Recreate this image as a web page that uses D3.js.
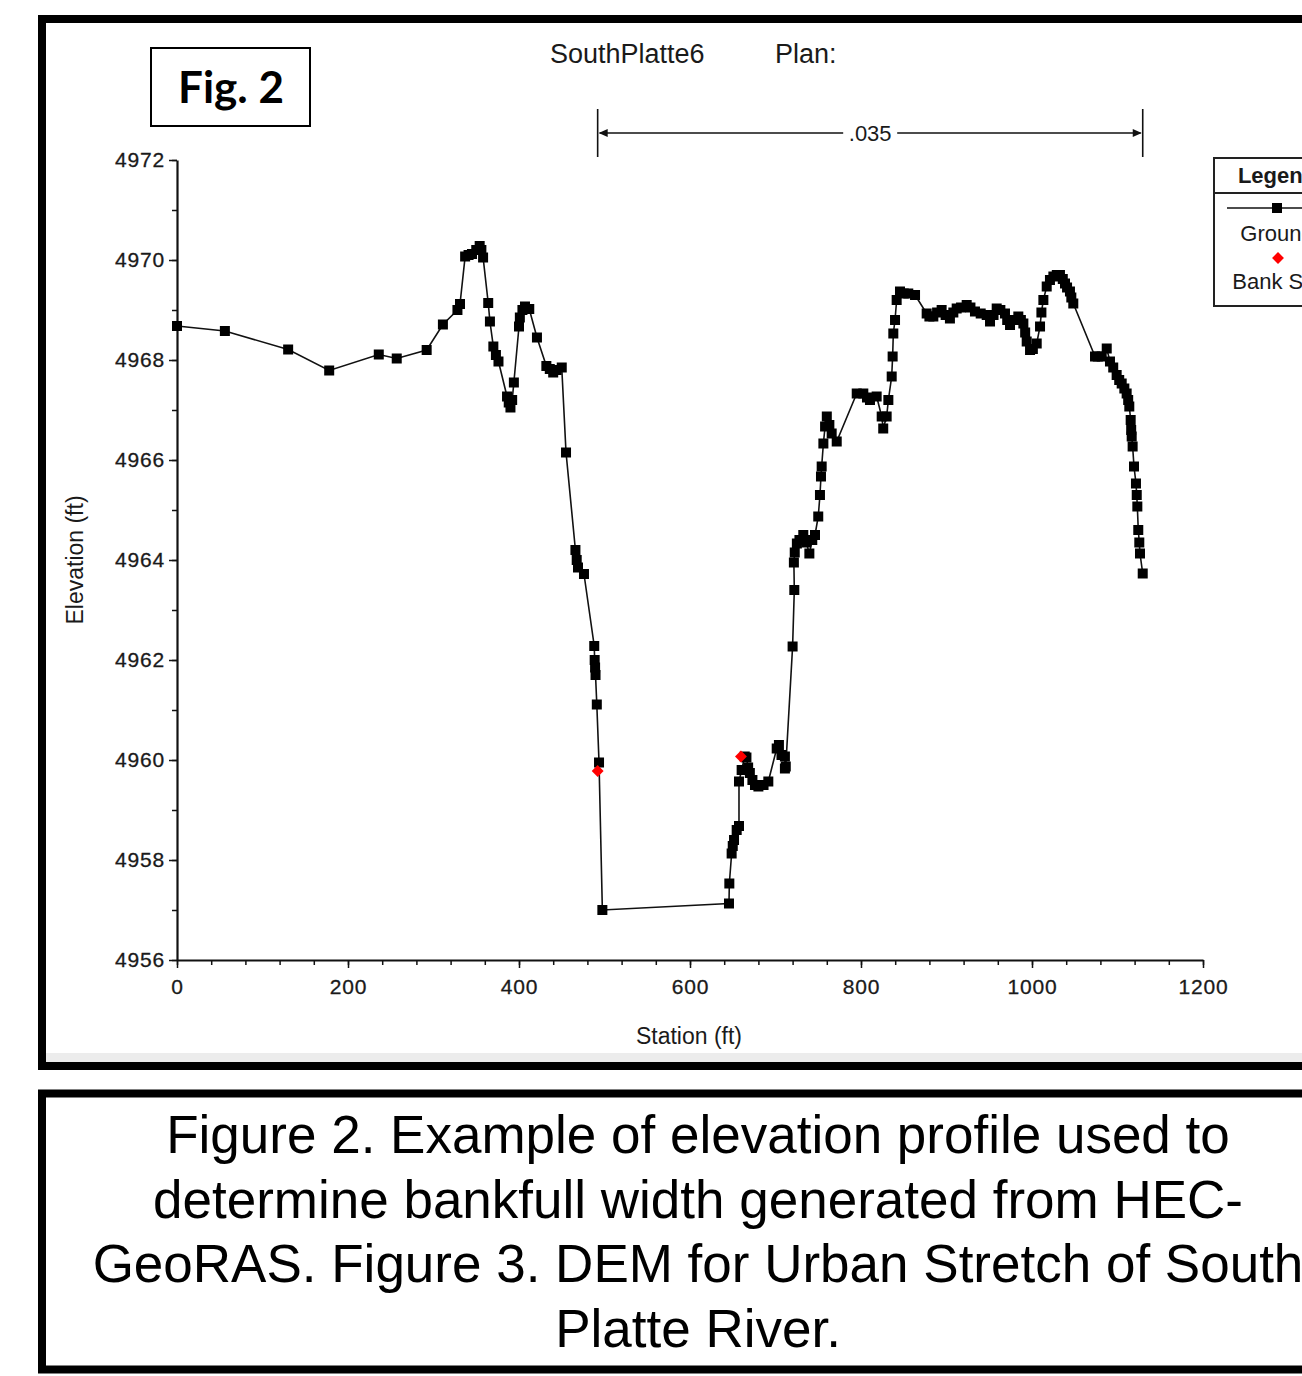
<!DOCTYPE html>
<html>
<head>
<meta charset="utf-8">
<script src="https://cdn.jsdelivr.net/npm/d3@7"></script>
<style>
  html, body { margin: 0; padding: 0; background: #fff; }
  svg { display: block; }
</style>
</head>
<body>
<svg id="chart" width="1302" height="1376"></svg>
<script>
// ---------------- DATA ----------------
const groundStation = [
  0, 56, 130, 178, 236, 257, 292, 311, 328, 331,
  337, 341, 345, 350, 354, 356, 358, 364, 366, 370,
  373, 376, 386, 388, 390, 392, 394, 400, 401, 404,
  407, 412, 421, 432, 436, 440, 444, 450, 455, 466,
  467.5, 469, 476, 488, 488.5, 489, 489.5, 491, 493.6, 497.5,
  645.6, 646, 648.7, 650, 651.5, 654.6, 657.3, 657.3, 660.4, 664,
  666, 668, 670, 673, 676, 680, 686, 691.6, 701.4, 704,
  707, 711, 711, 712, 720, 722, 721.5, 722.5, 725, 728,
  732.5, 736, 739.6, 743, 746.2, 750, 752, 753.2, 754, 756,
  758, 760, 763, 765.7, 771.6, 795, 802.7, 807, 810.5, 818.3,
  824.2, 826, 830, 832, 835.9, 837, 837.8, 839.8, 841.7, 845.6,
  850, 855.3, 863.2, 876.8, 880, 884.6, 889, 894.3, 899, 904,
  908, 911.9, 917, 923.6, 928, 933.3, 940, 947, 950.9, 955,
  958.7, 963, 968.4, 971, 974.3, 979, 984, 987, 989.9, 992,
  993.8, 997.7, 1001, 1005.5, 1009.4, 1011, 1013.3, 1017.2, 1021, 1025,
  1029, 1032.7, 1036, 1038.6, 1041, 1044.4, 1046, 1048.3, 1073.7, 1077,
  1081.5, 1087.4, 1091.2, 1095, 1099, 1102, 1104.9, 1108, 1110.7, 1112.5,
  1113.8, 1115.4, 1116, 1116.6, 1117.7, 1119.3, 1121.6, 1122.5, 1123.2, 1124.3,
  1125.5, 1126.3, 1129.5
];
const groundElevation = [
  4968.68, 4968.58, 4968.21, 4967.79, 4968.11, 4968.03, 4968.20, 4968.71, 4969.00, 4969.12,
  4970.07, 4970.10, 4970.12, 4970.20, 4970.28, 4970.20, 4970.05, 4969.14, 4968.77, 4968.27,
  4968.10, 4967.97, 4967.27, 4967.15, 4967.05, 4967.20, 4967.55, 4968.67, 4968.85, 4969.00,
  4969.07, 4969.02, 4968.45, 4967.88, 4967.82, 4967.75, 4967.80, 4967.85, 4966.15, 4964.20,
  4964.00, 4963.85, 4963.72, 4962.28, 4962.00, 4961.85, 4961.70, 4961.11, 4959.95, 4957.00,
  4957.13, 4957.53, 4958.13, 4958.28, 4958.40, 4958.60, 4958.68, 4959.57, 4959.80, 4960.07,
  4960.05, 4959.85, 4959.74, 4959.60, 4959.50, 4959.47, 4959.50, 4959.57, 4960.23, 4960.30,
  4960.10, 4960.07, 4959.83, 4959.87, 4962.27, 4963.40, 4963.95, 4964.15, 4964.33, 4964.40,
  4964.50, 4964.35, 4964.13, 4964.40, 4964.50, 4964.87, 4965.30, 4965.67, 4965.87, 4966.33,
  4966.67, 4966.87, 4966.70, 4966.53, 4966.37, 4967.33, 4967.33, 4967.25, 4967.20, 4967.27,
  4966.87, 4966.63, 4966.87, 4967.20, 4967.67, 4968.07, 4968.53, 4968.80, 4969.20, 4969.37,
  4969.33, 4969.33, 4969.30, 4968.93, 4968.87, 4968.87, 4968.95, 4969.00, 4968.90, 4968.83,
  4968.95, 4969.03, 4969.05, 4969.10, 4969.05, 4968.97, 4968.93, 4968.90, 4968.77, 4968.90,
  4969.03, 4969.00, 4968.93, 4968.80, 4968.70, 4968.80, 4968.87, 4968.80, 4968.73, 4968.55,
  4968.37, 4968.20, 4968.22, 4968.33, 4968.67, 4968.95, 4969.20, 4969.47, 4969.60, 4969.67,
  4969.70, 4969.70, 4969.62, 4969.53, 4969.45, 4969.37, 4969.25, 4969.13, 4968.07, 4968.07,
  4968.07, 4968.23, 4967.97, 4967.85, 4967.70, 4967.60, 4967.53, 4967.43, 4967.33, 4967.20,
  4967.07, 4966.80, 4966.60, 4966.47, 4966.27, 4965.87, 4965.53, 4965.30, 4965.07, 4964.60,
  4964.35, 4964.13, 4963.73
];
const bankStation = [492, 659.6];
const bankElevation = [4959.78, 4960.07];

const manningStart = 492;
const manningEnd = 1129.5;
const manningLabel = ".035";

const xTickValues = [0, 200, 400, 600, 800, 1000, 1200];
const yTickValues = [4956, 4958, 4960, 4962, 4964, 4966, 4968, 4970, 4972];
const xDomain = [0, 1200];
const yDomain = [4956, 4972];

const titleText = "SouthPlatte6";
const planText = "Plan:";
const xAxisLabel = "Station (ft)";
const yAxisLabel = "Elevation (ft)";
const legendTitle = "Legend";
const legendItems = ["Ground", "Bank Sta"];
const figTag = "Fig. 2";
const captionLines = [
  "Figure 2. Example of elevation profile used to",
  "determine bankfull width generated from HEC-",
  "GeoRAS. Figure 3. DEM for Urban Stretch of South",
  "Platte River."
];

// ---------------- DRAW ----------------
const svg = d3.select("#chart");
const FONT = "'Liberation Sans', Arial, sans-serif";
const TXT = "#1a1a1a";

// outer frame
svg.append("rect").attr("x", 46).attr("y", 1053).attr("width", 1300).attr("height", 9).attr("fill", "#ececec");
svg.append("rect").attr("x", 42).attr("y", 19).attr("width", 1400).attr("height", 1047)
  .attr("fill", "none").attr("stroke", "#000").attr("stroke-width", 8);

// caption frame
svg.append("rect").attr("x", 42).attr("y", 1093.5).attr("width", 1400).attr("height", 276)
  .attr("fill", "none").attr("stroke", "#000").attr("stroke-width", 8);

const cap = svg.append("text").attr("font-family", FONT).attr("font-size", 53)
  .attr("fill", "#000").attr("text-anchor", "middle");
captionLines.forEach((l, i) => {
  cap.append("tspan").attr("x", 698).attr("y", 1153 + i * 64.5).text(l);
});

// Fig. 2 box
svg.append("rect").attr("x", 151).attr("y", 48).attr("width", 159).attr("height", 78)
  .attr("fill", "#fff").attr("stroke", "#000").attr("stroke-width", 2);
svg.append("text").attr("x", 231).attr("y", 103).attr("text-anchor", "middle")
  .attr("font-family", "Lato, 'Open Sans', sans-serif").attr("font-weight", "bold")
  .attr("font-size", 44).attr("fill", "#000").text(figTag);

// scales
const x = d3.scaleLinear().domain(xDomain).range([177, 1203]);
const y = d3.scaleLinear().domain(yDomain).range([960, 160]);

// title
svg.append("text").attr("x", 550).attr("y", 63).attr("font-family", FONT).attr("font-size", 27)
  .attr("fill", TXT).text(titleText);
svg.append("text").attr("x", 775).attr("y", 63).attr("font-family", FONT).attr("font-size", 27)
  .attr("fill", TXT).text(planText);

// Manning's n bracket
const bx0 = x(manningStart), bx1 = x(manningEnd), by = 133;
const bg = svg.append("g").attr("stroke", "#111").attr("stroke-width", 1.6).attr("fill", "none");
bg.append("line").attr("x1", bx0).attr("x2", bx0).attr("y1", 109).attr("y2", 157);
bg.append("line").attr("x1", bx1).attr("x2", bx1).attr("y1", 109).attr("y2", 157);
const midX = (bx0 + bx1) / 2;
bg.append("line").attr("x1", bx0 + 2).attr("x2", midX - 27).attr("y1", by).attr("y2", by);
bg.append("line").attr("x1", midX + 27).attr("x2", bx1 - 2).attr("y1", by).attr("y2", by);
svg.append("path").attr("d", `M${bx0 + 1},${by} l9,-4 l0,8 z`).attr("fill", "#111");
svg.append("path").attr("d", `M${bx1 - 1},${by} l-9,-4 l0,8 z`).attr("fill", "#111");
svg.append("text").attr("x", midX).attr("y", by + 8).attr("text-anchor", "middle")
  .attr("font-family", FONT).attr("font-size", 22).attr("fill", TXT).text(manningLabel);

// axes
const tickFont = (g) => g.selectAll("text").attr("font-family", FONT).attr("font-size", 21)
  .attr("fill", TXT).attr("letter-spacing", "0.8px").attr("stroke", TXT).attr("stroke-width", 0.3);

// x minor ticks
const xMinor = d3.range(xDomain[0], xDomain[1] + 1, 40);
const xAxisMinor = d3.axisBottom(x).tickValues(xMinor).tickSize(5).tickFormat("");
svg.append("g").attr("transform", "translate(0,960)").call(xAxisMinor)
  .call(g => g.select(".domain").remove())
  .call(g => g.selectAll("line").attr("stroke", "#111").attr("stroke-width", 1.5));
const xAxis = d3.axisBottom(x).tickValues(xTickValues).tickSize(8).tickSizeOuter(0).tickPadding(11)
  .tickFormat(d3.format("d"));
svg.append("g").attr("transform", "translate(0,960)").call(xAxis)
  .call(g => g.select(".domain").attr("stroke", "#111").attr("stroke-width", 2.2))
  .call(g => g.selectAll("line").attr("stroke", "#111").attr("stroke-width", 1.5))
  .call(tickFont);

// y minor ticks
const yMinor = d3.range(yDomain[0], yDomain[1] + 1, 1);
const yAxisMinor = d3.axisLeft(y).tickValues(yMinor).tickSize(5).tickFormat("");
svg.append("g").attr("transform", "translate(177,0)").call(yAxisMinor)
  .call(g => g.select(".domain").remove())
  .call(g => g.selectAll("line").attr("stroke", "#111").attr("stroke-width", 1.5));
const yAxis = d3.axisLeft(y).tickValues(yTickValues).tickSize(8).tickSizeOuter(0).tickPadding(4)
  .tickFormat(d3.format("d"));
svg.append("g").attr("transform", "translate(177,0)").call(yAxis)
  .call(g => g.select(".domain").attr("stroke", "#111").attr("stroke-width", 2.2))
  .call(g => g.selectAll("line").attr("stroke", "#111").attr("stroke-width", 1.5))
  .call(tickFont);

// axis labels
svg.append("text").attr("x", 689).attr("y", 1044).attr("text-anchor", "middle")
  .attr("font-family", FONT).attr("font-size", 23).attr("fill", TXT).text(xAxisLabel);
svg.append("text").attr("transform", "translate(83,560) rotate(-90)").attr("text-anchor", "middle")
  .attr("font-family", FONT).attr("font-size", 23).attr("fill", TXT).text(yAxisLabel);

// ground line + markers
const ground = groundStation.map((s, i) => ({ s, e: groundElevation[i] }));
const line = d3.line().x(d => x(d.s)).y(d => y(d.e));
svg.append("path").datum(ground).attr("d", line).attr("fill", "none")
  .attr("stroke", "#111").attr("stroke-width", 1.6);
const MS = 10;
svg.append("g").selectAll("rect").data(ground).join("rect")
  .attr("x", d => x(d.s) - MS / 2).attr("y", d => y(d.e) - MS / 2)
  .attr("width", MS).attr("height", MS).attr("fill", "#000");

// bank stations
const banks = bankStation.map((s, i) => ({ s, e: bankElevation[i] }));
const diamond = d3.symbol().type(d3.symbolDiamond2).size(90);
svg.append("g").selectAll("path").data(banks).join("path")
  .attr("transform", d => `translate(${x(d.s)},${y(d.e)})`)
  .attr("d", diamond).attr("fill", "#ff0000");

// legend (box extends past the right edge, as in the reference)
const lg = svg.append("g");
lg.append("rect").attr("x", 1214).attr("y", 158).attr("width", 126).attr("height", 148)
  .attr("fill", "#fff").attr("stroke", "#222").attr("stroke-width", 2);
lg.append("line").attr("x1", 1214).attr("x2", 1340).attr("y1", 193).attr("y2", 193)
  .attr("stroke", "#222").attr("stroke-width", 2);
lg.append("text").attr("x", 1277).attr("y", 183).attr("text-anchor", "middle")
  .attr("font-family", FONT).attr("font-weight", "bold").attr("font-size", 22).attr("fill", TXT).text(legendTitle);
lg.append("line").attr("x1", 1227).attr("x2", 1328).attr("y1", 208).attr("y2", 208)
  .attr("stroke", "#111").attr("stroke-width", 1.6);
lg.append("rect").attr("x", 1277 - 5).attr("y", 203).attr("width", 10).attr("height", 10).attr("fill", "#000");
lg.append("text").attr("x", 1277).attr("y", 241).attr("text-anchor", "middle")
  .attr("font-family", FONT).attr("font-size", 22).attr("fill", TXT).text(legendItems[0]);
lg.append("path").attr("transform", "translate(1278,258)").attr("d", diamond).attr("fill", "#ff0000");
lg.append("text").attr("x", 1277).attr("y", 289).attr("text-anchor", "middle")
  .attr("font-family", FONT).attr("font-size", 22).attr("fill", TXT).text(legendItems[1]);
</script>
</body>
</html>
